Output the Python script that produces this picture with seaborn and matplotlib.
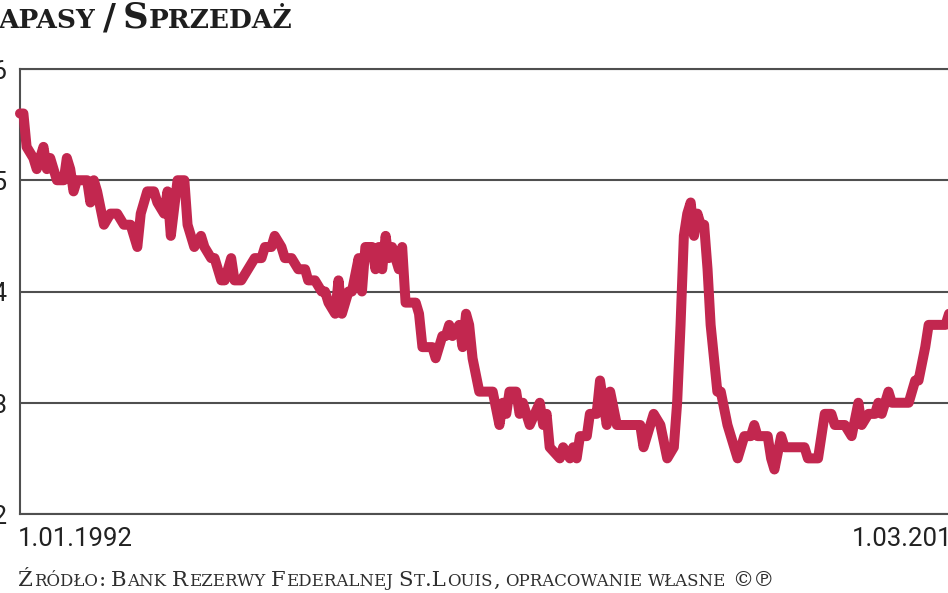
import pandas as pd
import matplotlib.pyplot as plt
import seaborn as sns

# inventory / sales ratio, monthly points
dates = [
    "1992-01", "1992-02", "1992-03", "1992-05", "1992-06", "1992-08", "1992-09", "1992-10",
    "1992-11", "1992-12", "1993-02", "1993-03", "1993-04", "1993-05", "1993-06", "1993-09",
    "1993-10", "1993-11", "1993-12", "1994-02", "1994-04", "1994-06", "1994-08", "1994-10",
    "1994-11", "1994-12", "1995-01", "1995-03", "1995-05", "1995-06", "1995-08", "1995-09",
    "1995-10", "1995-12", "1996-01", "1996-02", "1996-03", "1996-04", "1996-05", "1996-07",
    "1996-08", "1996-10", "1996-11", "1997-01", "1997-02", "1997-04", "1997-05", "1997-07",
    "1997-09", "1997-11", "1998-01", "1998-02", "1998-04", "1998-05", "1998-07", "1998-08",
    "1998-10", "1998-12", "1999-02", "1999-03", "1999-05", "1999-07", "1999-08", "1999-09",
    "1999-11", "1999-12", "2000-01", "2000-03", "2000-04", "2000-06", "2000-07", "2000-08",
    "2000-10", "2000-11", "2000-12", "2001-01", "2001-02", "2001-03", "2001-04", "2001-05",
    "2001-06", "2001-07", "2001-08", "2001-10", "2001-11", "2001-12", "2002-01", "2002-03",
    "2002-04", "2002-05", "2002-07", "2002-08", "2002-09", "2002-10", "2002-12", "2003-01",
    "2003-02", "2003-03", "2003-04", "2003-06", "2003-07", "2003-10", "2003-12", "2004-01",
    "2004-02", "2004-03", "2004-05", "2004-06", "2004-07", "2004-09", "2004-12", "2005-01",
    "2005-02", "2005-03", "2005-06", "2005-07", "2005-09", "2005-10", "2005-11", "2005-12",
    "2006-02", "2006-03", "2006-05", "2006-06", "2006-08", "2006-09", "2006-11", "2007-01",
    "2007-06", "2007-07", "2007-09", "2007-10", "2007-12", "2008-02", "2008-04", "2008-05",
    "2008-06", "2008-07", "2008-08", "2008-09", "2008-10", "2008-11", "2008-12", "2009-01",
    "2009-02", "2009-03", "2009-05", "2009-06", "2009-08", "2009-09", "2009-11", "2010-01",
    "2010-03", "2010-04", "2010-05", "2010-08", "2010-09", "2010-10", "2010-12", "2011-01",
    "2011-03", "2011-07", "2011-08", "2011-11", "2012-01", "2012-03", "2012-04", "2012-07",
    "2012-09", "2012-11", "2012-12", "2013-02", "2013-04", "2013-05", "2013-06", "2013-08",
    "2013-09", "2014-02", "2014-04", "2014-05", "2014-07", "2014-08", "2015-01", "2015-02",
    "2015-03",
]
ratio = [
    1.56, 1.56, 1.53, 1.52, 1.51, 1.53, 1.51, 1.52,
    1.51, 1.50, 1.50, 1.52, 1.51, 1.49, 1.50, 1.50,
    1.48, 1.50, 1.49, 1.46, 1.47, 1.47, 1.46, 1.46,
    1.45, 1.44, 1.47, 1.49, 1.49, 1.48, 1.47, 1.49,
    1.45, 1.50, 1.50, 1.50, 1.46, 1.45, 1.44, 1.45,
    1.44, 1.43, 1.43, 1.41, 1.41, 1.43, 1.41, 1.41,
    1.42, 1.43, 1.43, 1.44, 1.44, 1.45, 1.44, 1.43,
    1.43, 1.42, 1.42, 1.41, 1.41, 1.40, 1.40, 1.39,
    1.38, 1.41, 1.38, 1.40, 1.40, 1.43, 1.40, 1.44,
    1.44, 1.42, 1.44, 1.42, 1.45, 1.43, 1.44, 1.43,
    1.42, 1.44, 1.39, 1.39, 1.39, 1.38, 1.35, 1.35,
    1.35, 1.34, 1.36, 1.36, 1.37, 1.36, 1.37, 1.35,
    1.38, 1.37, 1.34, 1.31, 1.31, 1.31, 1.28, 1.30,
    1.29, 1.31, 1.31, 1.29, 1.30, 1.28, 1.30, 1.28,
    1.29, 1.26, 1.25, 1.26, 1.25, 1.26, 1.25, 1.27,
    1.27, 1.29, 1.29, 1.32, 1.28, 1.31, 1.28, 1.28,
    1.28, 1.26, 1.28, 1.29, 1.28, 1.25, 1.26, 1.30,
    1.37, 1.45, 1.47, 1.48, 1.45, 1.47, 1.46, 1.46,
    1.42, 1.37, 1.31, 1.31, 1.28, 1.27, 1.25, 1.27,
    1.27, 1.28, 1.27, 1.27, 1.25, 1.24, 1.27, 1.26,
    1.26, 1.26, 1.25, 1.25, 1.29, 1.29, 1.28, 1.28,
    1.27, 1.30, 1.28, 1.29, 1.29, 1.30, 1.29, 1.31,
    1.30, 1.30, 1.32, 1.32, 1.35, 1.37, 1.37, 1.38,
    1.38,
]
yticks = [1.2, 1.3, 1.4, 1.5, 1.6]
ytick_labels = ["1,2", "1,3", "1,4", "1,5", "1,6"]
xtick_labels = ["1.01.1992", "1.03.2015"]

title = "Zapasy / Sprzedaż"
source = "Źródło: Bank Rezerwy Federalnej St.Louis, opracowanie własne ©℗"

RED = "#C2274F"
GRID = "#4f4f4f"
W, H = 948, 593

df = pd.DataFrame({"data": pd.to_datetime(dates), "ratio": ratio})

sns.set_theme(style="white")
plt.rcParams["font.family"] = ["DejaVu Sans"]
tick_font = ["Roboto", "DejaVu Sans"]
serif = ["DejaVu Serif", "DejaVu Sans"]

fig = plt.figure(figsize=(W / 100, H / 100), dpi=100)
ax = fig.add_axes([20 / W, 1 - 514 / H, 932 / W, 445 / H])

sns.lineplot(data=df, x="data", y="ratio", ax=ax, color=RED, linewidth=7.2,
             solid_joinstyle="round", solid_capstyle="round", clip_on=False, zorder=3)

ax.set_xlim(df["data"].iloc[0], df["data"].iloc[-1])
ax.set_ylim(1.2, 1.6)
ax.set_xlabel("")
ax.set_ylabel("")
ax.set_xticks([])
ax.set_yticks(yticks)
ax.set_yticklabels(ytick_labels, family=tick_font, fontsize=18.5, color="#222222")
ax.tick_params(axis="y", length=0, pad=9)
ax.grid(axis="y", color=GRID, linewidth=1.5)
ax.set_axisbelow(True)
for side in ["left", "bottom", "top"]:
    ax.spines[side].set_color(GRID)
    ax.spines[side].set_linewidth(1.5)
ax.spines["right"].set_visible(False)

# date labels under the axis
fig.text(18 / W, 1 - 546 / H, xtick_labels[0], family=tick_font, fontsize=18.5,
         color="#222222", va="baseline", ha="left")
fig.text(852 / W, 1 - 546 / H, xtick_labels[1], family=tick_font, fontsize=18.5,
         color="#222222", va="baseline", ha="left")


def small_caps(x, base, text, big, small, gap=0.0, space=0.25, **kw):
    r = fig.canvas.get_renderer()
    runs = []
    for ch in text:
        kind = "sp" if ch == " " else ("lo" if ch.islower() else "up")
        if runs and runs[-1][0] == kind:
            runs[-1][1] += ch
        else:
            runs.append([kind, ch])
    for kind, s in runs:
        if kind == "sp":
            x += len(s) * big * space * 100 / 72
            continue
        size = small if kind == "lo" else big
        t = fig.text(x / W, 1 - base / H, s.upper(), fontsize=size,
                     va="baseline", ha="left", **kw)
        x += t.get_window_extent(r).width + gap


small_caps(-28, 28, title, 25.5, 19, gap=0.5, space=0.2, family=serif,
           weight="bold", color="#1e1e1e")
small_caps(18, 586, source, 15.3, 12, gap=0.8, space=0.22, family=serif,
           color="#2e2e2e")

fig.savefig("out.png", dpi=100)
